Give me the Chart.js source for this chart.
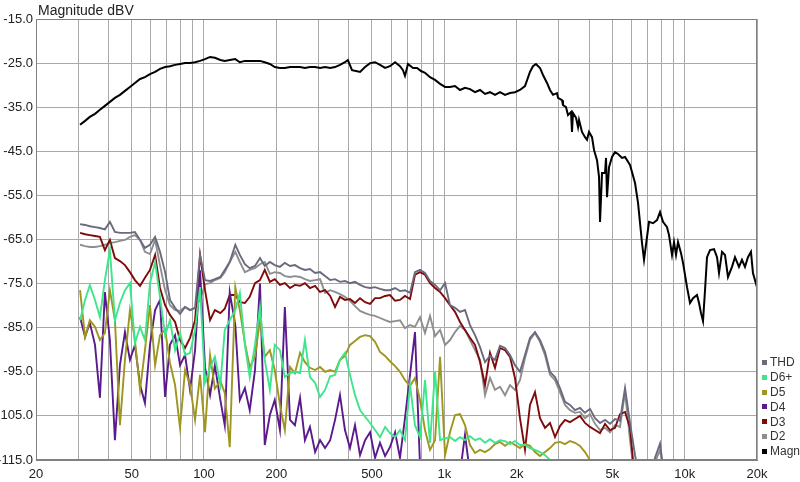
<!DOCTYPE html>
<html>
<head>
<meta charset="utf-8">
<script src="https://cdn.jsdelivr.net/npm/chart.js@4.4.1/dist/chart.umd.min.js"></script>
<style>
    html, body { margin: 0; padding: 0; background: #fff; }
    #grafico { display: block; }
</style>
</head>
<body>
<canvas id="grafico" width="800" height="482"></canvas>
<script>
// Magnitud (curva negra)
const magFreq = [30.5,32.0,33.5,35.2,36.9,38.7,40.6,42.6,44.7,46.9,
    49.2,51.6,54.2,56.8,59.6,62.6,65.6,68.9,72.2,75.8,
    79.5,83.4,87.5,91.8,96.3,101,106,111,117,122,
    128,135,141,148,155,163,171,179,188,197,
    207,217,228,239,251,263,276,290,304,319,
    335,351,368,386,397,413,429,446,468,491,
    515,540,567,594,624,654,673,686,706,741,
    770,800,831,872,915,960,1007,1056,1108,1162,
    1219,1279,1342,1408,1477,1549,1625,1705,1789,1876,
    1968,2064,2166,2272,2338,2406,2501,2574,2675,2752,
    2833,2944,2972,3088,3117,3209,3271,3366,3398,3431,
    3532,3600,3635,3740,3849,3923,4000,4116,4197,4319,
    4403,4445,4531,4663,4708,4753,4845,4986,5132,5281,
    5487,5648,5925,6216,6398,6647,6776,6973,7108,7386,
    7674,7898,8128,8446,8609,8860,9032,9206,9384,9658,
    9846,10230,10528,10834,11258,11476,11697,11923,12155,12390,
    12752,13251,13635,13898,14303,14719,15148,15739,16197,16829,
    17318,17823,18341,18875,19240,20000];
const magDb = [-39.0,-38.1,-37.2,-36.5,-35.6,-34.7,-33.8,-32.9,-32.2,-31.3,
    -30.4,-29.5,-28.6,-28.2,-27.5,-27.0,-26.3,-25.9,-25.7,-25.4,
    -25.2,-25.0,-25.0,-24.8,-24.5,-24.1,-23.6,-23.8,-24.3,-24.5,
    -24.3,-24.1,-24.8,-24.5,-24.5,-24.5,-24.5,-24.8,-25.2,-25.9,
    -26.1,-26.1,-25.9,-25.9,-25.9,-26.1,-25.9,-25.9,-26.1,-25.9,
    -26.1,-25.9,-25.4,-24.8,-24.3,-26.6,-26.8,-27.0,-25.9,-25.0,
    -24.8,-25.4,-26.1,-25.7,-24.8,-25.7,-26.6,-27.9,-25.2,-26.1,
    -26.1,-26.8,-27.2,-28.2,-28.8,-29.7,-30.4,-30.4,-30.2,-31.1,
    -30.6,-30.9,-31.6,-31.1,-32.0,-31.6,-32.2,-31.6,-32.2,-31.8,
    -31.6,-31.1,-30.2,-27.0,-25.7,-25.2,-26.1,-27.7,-29.5,-31.1,
    -32.2,-31.8,-32.9,-33.4,-34.5,-35.0,-36.8,-36.1,-40.6,-36.3,
    -37.4,-39.5,-37.9,-40.6,-41.8,-42.4,-40.6,-41.8,-44.7,-47.0,
    -50.8,-61.0,-49.9,-49.9,-46.5,-55.4,-48.6,-46.3,-45.2,-45.6,
    -46.5,-46.3,-48.1,-52.2,-56.7,-65.8,-69.6,-64.4,-61.0,-61.3,
    -60.6,-58.8,-61.0,-62.2,-64.0,-68.5,-65.6,-68.5,-65.6,-68.1,
    -70.3,-75.8,-79.4,-78.3,-77.6,-79.4,-81.7,-83.5,-76.5,-69.0,
    -67.4,-67.2,-69.0,-72.6,-67.8,-68.5,-73.5,-71.2,-69.0,-71.2,
    -69.6,-71.2,-69.0,-67.8,-72.6,-75.8];

// Frecuencias comunes de los armonicos
const hFreq = [30.5,32.0,33.5,35.2,36.9,38.7,40.6,42.6,44.7,46.9,
    49.2,51.6,54.2,56.8,59.6,62.6,65.6,68.9,72.2,75.8,
    79.5,83.4,87.5,91.8,96.3,101,106,111,117,122,
    128,135,141,148,155,163,171,179,188,197,
    207,217,228,239,251,263,276,290,304,319,
    335,351,368,386,405,425,446,468,491,515,
    540,567,594,624,654,686,720,755,792,831,
    872,915,960,1007,1056,1108,1162,1219,1279,1342,
    1408,1477,1549,1625,1705,1789,1876,1968,2064,2166,
    2272,2384,2501,2624,2752,2888,3029,3178,3334,3498,
    3669,3849,4038,4237,4445,4663,4892,5132,5383,5648,
    5925,6216,6521,6841,7176,7529,7898,8286];

const thdDb = [-61.5,-61.7,-62.0,-62.2,-62.4,-62.7,-61.0,-63.3,-63.5,-63.5,
    -63.5,-63.3,-65.1,-66.9,-66.2,-64.4,-67.8,-72.4,-78.7,-80.5,
    -81.9,-80.3,-81.0,-80.5,-68.5,-74.2,-74.4,-74.0,-73.5,-71.9,
    -70.1,-66.2,-68.5,-70.6,-71.5,-71.0,-69.2,-71.0,-70.1,-70.8,
    -71.2,-70.3,-71.0,-70.8,-71.5,-71.9,-71.7,-72.6,-72.4,-73.3,
    -74.2,-74.0,-74.6,-74.4,-74.9,-74.6,-75.3,-75.8,-76.0,-75.8,
    -76.2,-76.5,-76.5,-76.0,-76.7,-76.5,-77.1,-72.4,-71.9,-72.6,
    -74.4,-75.3,-76.5,-74.9,-79.9,-80.5,-81.4,-81.0,-84.4,-86.7,
    -89.4,-92.8,-91.4,-92.3,-89.1,-89.6,-91.2,-93.5,-95.0,-91.2,
    -87.3,-86.0,-87.8,-90.5,-95.0,-96.2,-98.7,-101.8,-102.5,-103.7,
    -103.2,-104.3,-103.4,-105.5,-106.6,-105.9,-106.8,-105.7,-106.1,-98.7,
    -106.6,-113.9,-120,-120,-120,-114.5,-111.3,-120];

const d2Db = [-66.2,-66.5,-66.7,-66.7,-66.5,-66.2,-65.8,-65.6,-65.3,-65.1,
    -64.4,-64.0,-65.1,-67.8,-68.3,-65.1,-70.8,-76.5,-79.9,-81.0,
    -81.2,-80.3,-81.0,-80.5,-78.7,-75.1,-74.9,-74.2,-73.7,-72.4,
    -70.1,-67.8,-70.1,-72.4,-71.9,-71.5,-70.6,-70.1,-72.8,-72.4,
    -72.6,-73.3,-73.5,-73.3,-73.5,-74.0,-74.4,-74.2,-74.0,-77.1,
    -76.5,-76.9,-77.4,-78.0,-78.9,-80.1,-81.2,-81.7,-82.1,-82.3,
    -82.8,-83.3,-83.7,-83.5,-83.3,-85.1,-84.4,-84.8,-82.6,-86.2,
    -82.3,-86.9,-85.5,-88.9,-87.8,-86.0,-84.6,-85.5,-87.8,-90.1,
    -92.3,-100.3,-96.4,-99.1,-98.4,-100.3,-98.0,-99.1,-96.9,-91.9,
    -87.8,-86.2,-88.2,-91.2,-95.7,-96.9,-99.6,-102.5,-103.7,-104.3,
    -104.1,-105.5,-104.6,-106.8,-108.2,-107.7,-108.7,-107.1,-107.5,-99.6,
    -110.5,-120,-120,-120,-120,-115.5,-112.7,-120];

const d3Db = [-63.5,-63.8,-64.0,-64.2,-64.4,-67.4,-65.1,-69.2,-69.9,-70.8,
    -72.4,-74.2,-75.5,-73.7,-71.9,-68.5,-76.0,-79.9,-82.1,-83.7,
    -87.8,-89.6,-87.3,-83.3,-68.5,-76.5,-83.3,-81.0,-81.7,-80.7,
    -77.6,-77.6,-79.2,-79.4,-78.0,-74.9,-74.2,-71.9,-74.6,-74.0,
    -75.3,-74.9,-76.0,-75.3,-75.5,-74.9,-76.0,-75.5,-76.9,-76.5,
    -77.8,-80.3,-78.0,-78.7,-78.5,-79.4,-78.3,-79.2,-79.6,-78.3,
    -78.3,-77.8,-77.6,-78.9,-78.7,-77.8,-78.5,-73.0,-72.4,-73.0,
    -74.9,-76.0,-76.9,-78.3,-79.9,-81.4,-83.7,-85.5,-87.3,-88.9,
    -92.8,-98.0,-90.7,-94.1,-89.6,-90.1,-91.6,-96.4,-105.5,-112.7,
    -102.5,-99.6,-105.5,-107.7,-106.6,-109.8,-107.3,-105.9,-106.4,-105.7,
    -105.0,-106.6,-107.5,-108.2,-108.9,-106.8,-108.2,-107.7,-104.6,-104.1,
    -107.7,-120];

const d4Db = [-82.6,-87.1,-83.9,-88.9,-100.9,-76.9,-87.8,-110.5,-93.5,-86.0,
    -92.3,-88.9,-98.0,-102.1,-88.9,-81.0,-78.7,-100.7,-88.9,-86.7,
    -93.5,-91.2,-99.1,-90.1,-72.0,-94.0,-100.3,-93.5,-101.4,-107.1,
    -77.0,-84.4,-101.4,-98.7,-103.7,-94.6,-75.0,-111.6,-104.8,-101.4,
    -108.2,-80.3,-105.9,-107.1,-100.9,-110.5,-107.5,-113.2,-110.5,-112.3,
    -110.5,-105.9,-100.3,-108.2,-112.3,-107.1,-113.9,-110.5,-108.7,-114.5,
    -111.1,-114.1,-112.1,-108.7,-114.5,-105.5,-95.7,-86.0,-116.0,-117.0,
    -118,-118,-118,-118,-118,-118,-118,-109.3,-118];

const d5Db = [-76.5,-87.1,-83.3,-84.8,-87.8,-86.2,-76.5,-83.3,-107.1,-92.3,
    -81.0,-87.8,-99.1,-90.1,-79.9,-93.5,-86.7,-85.5,-93.0,-98.0,
    -107.7,-94.6,-98.0,-105.9,-95.7,-108.7,-91.2,-98.8,-97.1,-99.8,
    -112.1,-75.8,-81.0,-88.5,-93.9,-91.6,-83.3,-91.6,-90.1,-94.6,
    -102.5,-108.2,-93.9,-95.3,-90.7,-92.8,-94.1,-94.6,-93.9,-95.0,
    -94.6,-95.0,-92.3,-91.4,-88.9,-88.0,-87.1,-86.7,-86.9,-88.2,
    -90.5,-91.4,-92.6,-93.7,-95.0,-96.9,-98.2,-96.4,-101.4,-108.2,
    -112.7,-110.5,-91.6,-113.9,-108.7,-104.8,-104.6,-107.1,-111.6,-113.4,
    -112.7,-113.2,-112.5,-111.4,-110.9,-111.8,-110.9,-111.6,-112.3,-111.4,
    -111.8,-113.2,-114.1,-113.2,-112.3,-111.1,-110.9,-111.4,-110.7,-111.1,
    -111.8,-113.2,-115.0,-120];

const d6Db = [-83.3,-78.7,-75.3,-78.7,-82.6,-74.2,-67.4,-83.3,-79.4,-76.5,
    -74.9,-88.5,-84.8,-87.8,-74.9,-70.1,-78.0,-86.7,-83.3,-90.1,
    -86.2,-91.2,-90.7,-85.5,-75.8,-97.5,-94.0,-91.6,-98.0,-85.5,
    -83.3,-81.0,-77.1,-88.9,-96.2,-88.9,-80.3,-92.3,-99.1,-88.9,
    -90.1,-96.2,-95.3,-95.0,-95.3,-87.8,-96.2,-97.5,-100.7,-99.1,
    -96.0,-95.7,-92.3,-90.7,-95.7,-100.3,-103.7,-105.2,-106.6,-108.2,
    -109.8,-107.5,-108.9,-109.8,-108.2,-110.5,-98.0,-107.1,-109.8,-96.9,
    -111.1,-95.0,-110.5,-110.1,-109.8,-110.7,-109.8,-110.5,-109.6,-110.5,
    -110.1,-111.1,-110.3,-111.1,-110.5,-110.7,-111.4,-110.7,-111.6,-111.6,
    -112.3,-112.7,-113.2,-113.9,-115.0,-120];

// Ejes
const xGridValues = [20,30,40,50,60,70,80,90,100,200,300,400,500,600,700,800,900,
    1000,2000,3000,4000,5000,6000,7000,8000,9000,10000,20000];
const xLabelValues = [20,50,100,200,500,1000,2000,5000,10000,20000];
const xLabelTexts = ['20','50','100','200','500','1k','2k','5k','10k','20k'];
const yTickValues = [-115,-105,-95,-85,-75,-65,-55,-45,-35,-25,-15];

// Series: nombre, color (en orden de leyenda)
const legendNames = ['THD','D6+','D5','D4','D3','D2','Magn'];
const legendColors = ['#6a6a7e','#3de68c','#9e9620','#5b1a8b','#7f0a0a','#8e8e8e','#000000'];

const FUENTE = '"Liberation Sans", Arial, sans-serif';

class GraficoDistorsion {
    constructor(canvasGrafico) {
        this.canvasGrafico = canvasGrafico;
    }

    #serie(nombre, frecuencias, valores) {
        const i = legendNames.indexOf(nombre);
        return {
            label: nombre,
            data: valores.map((v, k) => ({ x: frecuencias[k], y: v })),
            borderColor: legendColors[i],
            borderWidth: nombre === 'Magn' ? 2 : 1.9,
            pointRadius: 0,
            tension: 0,
            fill: false,
            clip: 0
        };
    }

    #datasets() {
        // el primero queda dibujado encima
        return [
            this.#serie('Magn', magFreq, magDb),
            this.#serie('THD', hFreq, thdDb),
            this.#serie('D6+', hFreq, d6Db),
            this.#serie('D5', hFreq, d5Db),
            this.#serie('D4', hFreq, d4Db),
            this.#serie('D3', hFreq, d3Db),
            this.#serie('D2', hFreq, d2Db)
        ];
    }

    #escalas() {
        return {
            x: {
                type: 'logarithmic',
                min: 20,
                max: 20000,
                afterBuildTicks: GraficoDistorsion.fn_ticksX(),
                afterFit: s => { s.height = 22; },
                grid: { color: '#a9a9a9', lineWidth: 1, drawTicks: false },
                border: { color: '#808080' },
                ticks: {
                    autoSkip: false,
                    maxRotation: 0,
                    padding: 7,
                    color: '#222',
                    font: { family: FUENTE, size: 13 },
                    callback: GraficoDistorsion.fn_etiquetaX()
                }
            },
            y: {
                min: -115,
                max: -15,
                afterBuildTicks: s => { s.ticks = yTickValues.map(v => ({ value: v })); },
                afterFit: s => { s.width = 36; },
                grid: { color: '#a9a9a9', lineWidth: 1, drawTicks: false },
                border: { color: '#808080' },
                ticks: {
                    padding: 3,
                    color: '#222',
                    font: { family: FUENTE, size: 13 },
                    callback: v => Number(v).toFixed(1)
                }
            }
        };
    }

    graficar() {
        return new Chart(this.canvasGrafico, {
            type: 'line',
            data: { datasets: this.#datasets() },
            options: {
                responsive: false,
                animation: false,
                devicePixelRatio: 1,
                parsing: true,
                layout: { padding: { top: 19, right: 43, left: 0, bottom: 0 } },
                scales: this.#escalas(),
                plugins: { legend: { display: false }, tooltip: { enabled: false } }
            },
            plugins: [GraficoDistorsion.fn_decorado()]
        });
    }

    static fn_ticksX() {
        return function(scale) {
            scale.ticks = xGridValues.map(v => ({ value: v }));
        }
    }

    static fn_etiquetaX() {
        return function(value) {
            const i = xLabelValues.indexOf(Math.round(value));
            return i >= 0 ? xLabelTexts[i] : '';
        }
    }

    static fn_decorado() {
        return {
            id: 'decorado',
            afterDraw(chart) {
                const { ctx, chartArea: a } = chart;
                ctx.save();

                // marco
                ctx.strokeStyle = '#808080';
                ctx.lineWidth = 1;
                ctx.strokeRect(Math.round(a.left) + 0.5, Math.round(a.top) + 0.5,
                    Math.round(a.right - a.left) - 1, Math.round(a.bottom - a.top) - 1);

                // titulo del eje
                ctx.fillStyle = '#222';
                ctx.font = '14px ' + FUENTE;
                ctx.textBaseline = 'alphabetic';
                ctx.textAlign = 'left';
                ctx.fillText('Magnitude dBV', 38, 15);

                // leyenda
                ctx.font = '12px ' + FUENTE;
                ctx.textBaseline = 'middle';
                legendNames.forEach((nombre, i) => {
                    const y = 362 + i * 14.8;
                    ctx.fillStyle = legendColors[i];
                    ctx.fillRect(762, Math.round(y) - 2, 5, 5);
                    ctx.fillStyle = '#333';
                    ctx.fillText(nombre, 770, y + 1);
                });
                ctx.restore();
            }
        };
    }
}

new GraficoDistorsion(document.getElementById('grafico')).graficar();
</script>
</body>
</html>
